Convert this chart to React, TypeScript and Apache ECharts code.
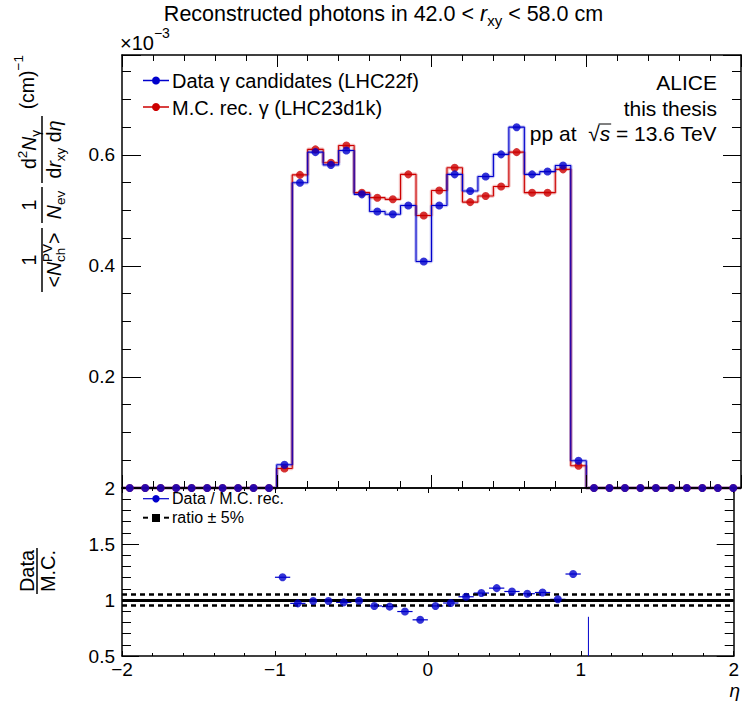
import React, { useEffect, useRef } from 'react';
import * as echarts from 'echarts';

// ---------------- data ----------------
const etaCenters = [
  -1.95, -1.85, -1.75, -1.65, -1.55, -1.45, -1.35, -1.25, -1.15, -1.05,
  -0.95, -0.85, -0.75, -0.65, -0.55, -0.45, -0.35, -0.25, -0.15, -0.05,
  0.05, 0.15, 0.25, 0.35, 0.45, 0.55, 0.65, 0.75, 0.85, 0.95,
  1.05, 1.15, 1.25, 1.35, 1.45, 1.55, 1.65, 1.75, 1.85, 1.95,
];
// yields in units of 1e-3
const dataYield = [
  0, 0, 0, 0, 0, 0, 0, 0, 0, 0,
  0.042, 0.550, 0.605, 0.582, 0.608, 0.529, 0.498, 0.493, 0.509, 0.408,
  0.509, 0.565, 0.535, 0.561, 0.601, 0.650, 0.565, 0.570, 0.581, 0.049,
  0, 0, 0, 0, 0, 0, 0, 0, 0, 0,
];
const mcYield = [
  0, 0, 0, 0, 0, 0, 0, 0, 0, 0,
  0.035, 0.564, 0.610, 0.586, 0.617, 0.532, 0.523, 0.520, 0.565, 0.491,
  0.536, 0.577, 0.515, 0.526, 0.543, 0.605, 0.532, 0.532, 0.574, 0.040,
  0, 0, 0, 0, 0, 0, 0, 0, 0, 0,
];
const ratioEta = [
  -0.95, -0.85, -0.75, -0.65, -0.55, -0.45, -0.35, -0.25, -0.15, -0.05,
  0.05, 0.15, 0.25, 0.35, 0.45, 0.55, 0.65, 0.75, 0.85, 0.95,
];
const ratioValues = [
  1.203, 0.970, 0.991, 0.991, 0.979, 0.994, 0.947, 0.941, 0.897, 0.823,
  0.947, 0.973, 1.029, 1.062, 1.106, 1.076, 1.056, 1.067, 1.006, 1.232,
];
const binHalfWidth = 0.05;
const ratioBandLevels = [0.95, 1.05];
const ratioUnity = 1;
const spike = [[1.05, 0.5], [1.05, 0.85]];

const upperYLabels = [0.2, 0.4, 0.6];
const ratioYLabels = [0.5, 1, 1.5, 2];
const xLabels = [-2, -1, 0, 1, 2];

// ---------------- style ----------------
const FONT = '"Liberation Sans", Arial, Helvetica, sans-serif';
const BLUE = '#0000cc';
const RED = '#cc0000';
const LABEL_SIZE = 19;

type Tok = { t: string; s: number; it?: boolean; dy?: number; noAdv?: boolean };
let mctx: CanvasRenderingContext2D | null = null;
function measure(t: string, s: number, it?: boolean) {
  if (!mctx) mctx = document.createElement('canvas').getContext('2d');
  mctx!.font = `${it ? 'italic ' : ''}${s}px ${FONT}`;
  return mctx!.measureText(t).width;
}
function layout(toks: Tok[]) {
  const ws = toks.map((k) => measure(k.t, k.s, k.it));
  const xs: number[] = [];
  let cx = 0;
  let stackW = 0;
  toks.forEach((k, i) => {
    xs.push(cx);
    if (k.noAdv) {
      stackW = Math.max(stackW, ws[i]);
    } else {
      cx += Math.max(ws[i], stackW);
      stackW = 0;
    }
  });
  return { ws, xs, total: cx };
}
function runText(toks: Tok[], x: number, base: number, align: 'left' | 'center' | 'right', fill = '#000') {
  const { ws, xs, total } = layout(toks);
  const x0 = align === 'left' ? x : align === 'center' ? x - total / 2 : x - total;
  const els = toks.map((k, i) => ({
    type: 'text',
    x: x0 + xs[i],
    y: base + (k.dy || 0) - 0.347 * k.s,
    silent: true,
    style: {
      text: k.t,
      fontSize: k.s,
      fontFamily: FONT,
      fontStyle: k.it ? 'italic' : 'normal',
      fill,
      align: 'left',
      textAlign: 'left',
      verticalAlign: 'middle',
      textVerticalAlign: 'middle',
    },
  }));
  return { els, xs: xs.map((v) => v + x0), ws, total };
}
function hline(x1: number, x2: number, y: number, w = 1.5, color = '#000', dash?: number[]) {
  return {
    type: 'line',
    silent: true,
    shape: { x1, y1: y, x2, y2: y },
    style: { stroke: color, lineWidth: w, lineDash: dash },
  };
}

function buildGraphics() {
  const g: any[] = [];
  // title
  g.push(
    ...runText(
      [
        { t: 'Reconstructed photons in 42.0 < ', s: 21.5 },
        { t: 'r', s: 21.5, it: true },
        { t: 'xy', s: 15, dy: 4.5 },
        { t: ' < 58.0 cm', s: 21.5 },
      ],
      383.5, 21.5, 'center'
    ).els
  );
  // x10^-3
  g.push(...runText([{ t: '×10', s: 20 }, { t: '−3', s: 14, dy: -12 }], 120, 50, 'left').els);

  // ALICE block
  g.push(...runText([{ t: 'ALICE', s: 21 }], 717, 89.5, 'right').els);
  g.push(...runText([{ t: 'this thesis', s: 21 }], 717, 116, 'right').els);
  const pp = runText(
    [
      { t: 'pp at  ', s: 21 },
      { t: '√', s: 21 },
      { t: 's', s: 21, it: true },
      { t: ' = 13.6 TeV', s: 21 },
    ],
    717, 140.5, 'right'
  );
  g.push(...pp.els);
  g.push(hline(pp.xs[2] - 1, pp.xs[2] + pp.ws[2] + 1, 140.5 - 16.5, 1));

  // upper legend
  g.push(hline(143, 169, 80.5, 1.5, BLUE));
  g.push({ type: 'circle', silent: true, shape: { cx: 156, cy: 80.5, r: 4 }, style: { fill: BLUE } });
  g.push(...runText([{ t: 'Data γ candidates (LHC22f)', s: 20 }], 172, 88, 'left').els);
  g.push(hline(143, 169, 107, 1.5, RED));
  g.push({ type: 'circle', silent: true, shape: { cx: 156, cy: 107, r: 4 }, style: { fill: RED } });
  g.push(...runText([{ t: 'M.C. rec. γ (LHC23d1k)', s: 20 }], 172, 114.5, 'left').els);

  // ratio legend
  g.push(hline(143, 169, 498.7, 1.2, BLUE));
  g.push({ type: 'circle', silent: true, shape: { cx: 156, cy: 498.7, r: 3.7 }, style: { fill: BLUE } });
  g.push(...runText([{ t: 'Data / M.C. rec.', s: 16 }], 172, 504, 'left').els);
  g.push(hline(143, 148, 517.7, 2));
  g.push(hline(164, 169, 517.7, 2));
  g.push({ type: 'rect', silent: true, shape: { x: 152, y: 514, width: 8, height: 8 }, style: { fill: '#000' } });
  g.push(...runText([{ t: 'ratio ± 5%', s: 16 }], 172, 523, 'left').els);

  // eta axis title
  g.push(...runText([{ t: 'η', s: 19, it: true }], 740, 697, 'right').els);

  // rotated y title (upper)
  const S = 19.5;
  const s2 = 13.5;
  const yt: any[] = [];
  const bar = (a: number, b: number) => hline(a, b, 0, 1.5);
  // frac 1
  yt.push(bar(8, 72));
  yt.push(...runText([{ t: '1', s: S }], 40, -6, 'center').els);
  yt.push(
    ...runText(
      [
        { t: '<', s: S },
        { t: 'N', s: S, it: true },
        { t: 'ch', s: s2, dy: 4, noAdv: true },
        { t: 'PV', s: s2, dy: -8.5 },
        { t: '>', s: S },
      ],
      40, 19, 'center'
    ).els
  );
  // frac 2
  yt.push(bar(77, 113));
  yt.push(...runText([{ t: '1', s: S }], 95, -6, 'center').els);
  yt.push(...runText([{ t: 'N', s: S, it: true }, { t: 'ev', s: s2, dy: 4 }], 95, 19, 'center').els);
  // frac 3
  yt.push(bar(117, 184));
  yt.push(
    ...runText(
      [
        { t: 'd', s: S },
        { t: '2', s: s2, dy: -8.5 },
        { t: 'N', s: S, it: true },
        { t: 'γ', s: s2, dy: 4 },
      ],
      150.5, -6, 'center'
    ).els
  );
  yt.push(
    ...runText(
      [
        { t: 'd', s: S },
        { t: 'r', s: S, it: true },
        { t: 'xy', s: s2, dy: 4 },
        { t: ' d', s: S },
        { t: 'η', s: S, it: true },
      ],
      150.5, 19, 'center'
    ).els
  );
  // (cm)^-1
  yt.push(...runText([{ t: '(cm)', s: S }, { t: '−1', s: s2, dy: -11 }], 245, -8, 'right').els);
  g.push({ type: 'group', x: 42, y: 300, rotation: Math.PI / 2, silent: true, children: yt });

  // rotated ratio title
  const rt: any[] = [];
  rt.push(hline(-23, 23, 0, 1.5));
  rt.push(...runText([{ t: 'Data', s: 20 }], 0, -3, 'center').els);
  rt.push(...runText([{ t: 'M.C.', s: 20 }], 0, 17.5, 'center').els);
  g.push({ type: 'group', x: 37, y: 571, rotation: Math.PI / 2, silent: true, children: rt });
  return g;
}

function stepData(vals: number[]) {
  const out: number[][] = [];
  etaCenters.forEach((c, i) => {
    out.push([c - binHalfWidth, vals[i]], [c + binHalfWidth, vals[i]]);
  });
  return out;
}

const minus = (v: number) => (v < 0 ? '−' + String(Math.abs(v)) : String(v));
const near = (v: number, list: number[]) => list.some((l) => Math.abs(l - v) < 1e-6);

function xAxis(gridIndex: number, position: 'top' | 'bottom', labels: boolean, major: number, minor: number) {
  return {
    type: 'value',
    gridIndex,
    position,
    min: -2,
    max: 2,
    interval: 1,
    z: 3,
    axisLine: { show: true, onZero: false, lineStyle: { color: '#000', width: 1.5 } },
    axisTick: { show: true, inside: true, length: major, lineStyle: { color: '#000', width: 1 } },
    minorTick: { show: true, splitNumber: 5, length: minor, lineStyle: { color: '#000', width: 1 } },
    splitLine: { show: false },
    minorSplitLine: { show: false },
    axisLabel: {
      show: labels,
      fontSize: LABEL_SIZE,
      fontFamily: FONT,
      color: '#000',
      margin: 4,
      formatter: (v: number) => (near(v, xLabels) ? minus(v) : ''),
    },
  };
}
function yAxis(
  gridIndex: number,
  position: 'left' | 'right',
  min: number,
  max: number,
  interval: number,
  split: number,
  labels: number[] | null,
  major: number,
  minor: number
) {
  return {
    type: 'value',
    gridIndex,
    position,
    min,
    max,
    interval,
    z: 3,
    axisLine: { show: true, onZero: false, lineStyle: { color: '#000', width: 1.5 } },
    axisTick: { show: true, inside: true, length: major, lineStyle: { color: '#000', width: 1 } },
    minorTick: { show: true, splitNumber: split, length: minor, lineStyle: { color: '#000', width: 1 } },
    splitLine: { show: false },
    minorSplitLine: { show: false },
    axisLabel: {
      show: !!labels,
      fontSize: LABEL_SIZE,
      fontFamily: FONT,
      color: '#000',
      margin: 7,
      showMinLabel: true,
      showMaxLabel: true,
      formatter: (v: number) => (labels && near(v, labels) ? String(v) : ''),
    },
  };
}

function buildOption(): any {
  const step = (vals: number[], color: string, width: number, opacity: number, z: number) => ({
    type: 'line',
    xAxisIndex: 0,
    yAxisIndex: 0,
    data: stepData(vals),
    symbol: 'none',
    silent: true,
    z,
    lineStyle: { color, width, opacity },
  });
  const points = (vals: number[], color: string, z: number) => ({
    type: 'scatter',
    xAxisIndex: 0,
    yAxisIndex: 0,
    data: etaCenters.map((c, i) => [c, vals[i]]),
    symbol: 'circle',
    symbolSize: 8,
    clip: false,
    silent: true,
    z,
    itemStyle: { color },
  });
  return {
    animation: false,
    backgroundColor: '#fff',
    grid: [
      { left: 122, right: 1, top: 55, height: 433 },
      { left: 122, right: 1, top: 488, height: 168 },
    ],
    xAxis: [
      xAxis(0, 'bottom', false, 13, 7),
      xAxis(0, 'top', false, 12, 6),
      xAxis(1, 'bottom', true, 5, 3),
      xAxis(1, 'top', false, 5, 3),
    ],
    yAxis: [
      yAxis(0, 'left', 0, 0.78, 0.2, 4, upperYLabels, 19, 9),
      yAxis(0, 'right', 0, 0.78, 0.2, 4, null, 18, 9),
      yAxis(1, 'left', 0.5, 2, 0.5, 5, ratioYLabels, 17, 9),
      yAxis(1, 'right', 0.5, 2, 0.5, 5, null, 17, 9),
    ],
    series: [
      step(mcYield, RED, 3.5, 0.25, 1),
      step(dataYield, BLUE, 3.5, 0.25, 1),
      step(mcYield, RED, 1.1, 1, 2),
      step(dataYield, BLUE, 1.1, 1, 2),
      points(mcYield, RED, 5),
      points(dataYield, BLUE, 6),
      {
        type: 'line',
        xAxisIndex: 2,
        yAxisIndex: 2,
        data: [],
        silent: true,
        z: 2,
        markLine: {
          silent: true,
          symbol: ['none', 'none'],
          label: { show: false },
          animation: false,
          data: [
            { yAxis: ratioUnity, lineStyle: { color: '#000', width: 3, type: 'solid' } },
            ...ratioBandLevels.map((v) => ({ yAxis: v, lineStyle: { color: '#000', width: 2.5, type: [5, 4] } })),
          ],
        },
      },
      {
        type: 'line',
        xAxisIndex: 2,
        yAxisIndex: 2,
        data: spike,
        symbol: 'none',
        silent: true,
        z: 3,
        lineStyle: { color: BLUE, width: 1 },
      },
      {
        type: 'custom',
        xAxisIndex: 2,
        yAxisIndex: 2,
        silent: true,
        z: 4,
        data: ratioEta.map((e, i) => [e, ratioValues[i]]),
        renderItem: (_p: any, api: any) => {
          const x = api.value(0);
          const y = api.value(1);
          const a = api.coord([x - binHalfWidth, y]);
          const b = api.coord([x + binHalfWidth, y]);
          return {
            type: 'line',
            shape: { x1: a[0], y1: a[1], x2: b[0], y2: b[1] },
            style: { stroke: BLUE, lineWidth: 1.2 },
          };
        },
      },
      {
        type: 'scatter',
        xAxisIndex: 2,
        yAxisIndex: 2,
        data: ratioEta.map((e, i) => [e, ratioValues[i]]),
        symbol: 'circle',
        symbolSize: 8,
        silent: true,
        z: 5,
        itemStyle: { color: BLUE },
      },
    ],
    graphic: { elements: buildGraphics() },
  };
}

export default function App() {
  const ref = useRef<HTMLDivElement>(null);
  useEffect(() => {
    const chart = echarts.init(ref.current!, null, { renderer: 'svg' });
    chart.setOption(buildOption());
    return () => chart.dispose();
  }, []);
  return (
    <div
      ref={ref}
      style={{ position: 'absolute', left: 0, top: 0, width: 742, height: 702, background: '#fff' }}
    />
  );
}
